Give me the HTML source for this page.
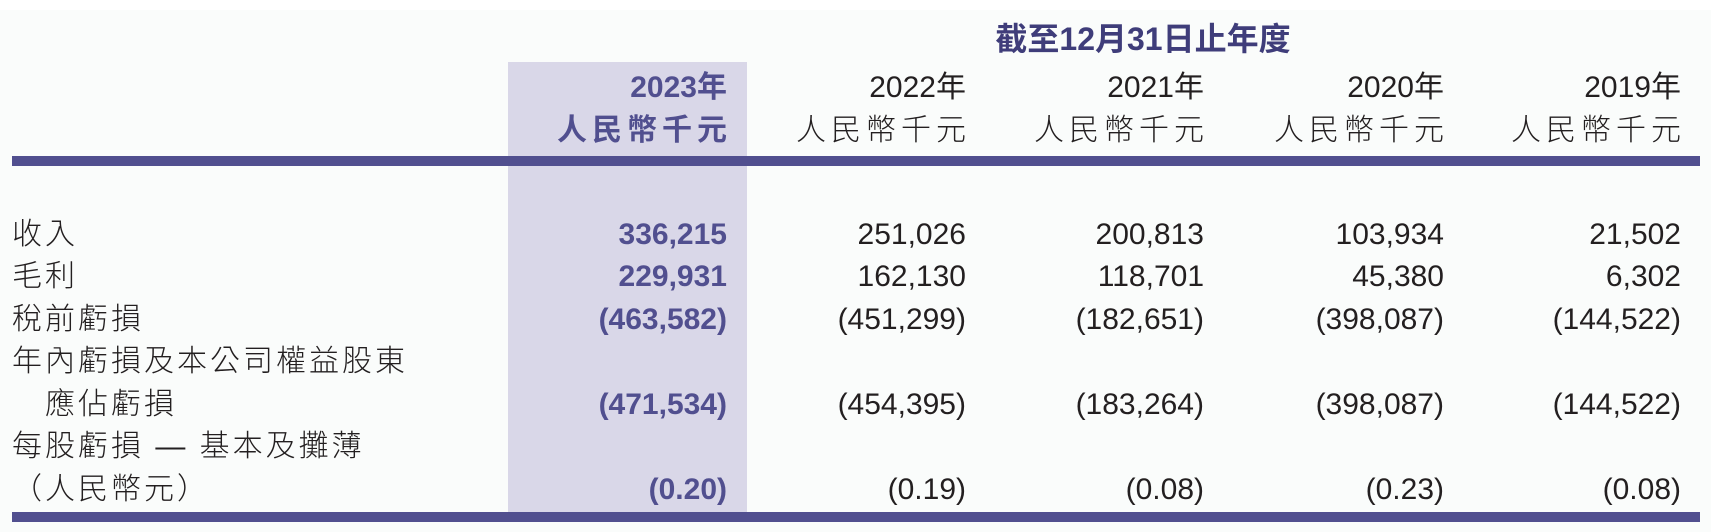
<!DOCTYPE html>
<html><head><meta charset="utf-8">
<style>
body{margin:0;width:1711px;height:532px;background:#fff;position:relative;overflow:hidden;font-family:"Liberation Sans","Noto Sans CJK TC",sans-serif;color:#231f20}
#panel{position:absolute;left:0;top:10px;width:1711px;height:522px;background:#fafcfb}
#shade{position:absolute;left:508px;top:62px;width:239px;height:450px;background:#d9d7e8}
.bar{position:absolute;left:12px;width:1688px;height:10px;background:#514f8f}
.t{position:absolute;font-size:30px;line-height:34px;white-space:nowrap}
.r{text-align:right;width:300px}
.b{color:#514f8f;font-weight:bold}
.cjk{font-family:"Liberation Sans","Noto Sans CJK TC",sans-serif;font-weight:300}
</style></head><body>
<div id="panel"></div>
<div id="shade"></div>
<div class="bar" style="top:156px"></div>
<div class="bar" style="top:512px"></div>
<div class="t b" style="left:993px;top:22px;width:300px;text-align:center;font-size:32px;color:#3f3d7a">截至12月31日止年度</div>
<div id="cols"></div>
<div id="rows"></div>
<script>
const years=["2023年","2022年","2021年","2020年","2019年"];
const labels=["收入","毛利","稅前虧損","年內虧損及本公司權益股東","　應佔虧損","每股虧損 — 基本及攤薄","（人民幣元）"];
const revenue=["336,215","251,026","200,813","103,934","21,502"];
const gross=["229,931","162,130","118,701","45,380","6,302"];
const pretax=["(463,582)","(451,299)","(182,651)","(398,087)","(144,522)"];
const attrib=["(471,534)","(454,395)","(183,264)","(398,087)","(144,522)"];
const eps=["(0.20)","(0.19)","(0.08)","(0.23)","(0.08)"];
const rowsData=[revenue,gross,pretax,null,attrib,null,eps];
const rights=[727,966,1204,1444,1681];
const rowTop=[218,260,303,345,388,430,473];
const cols=document.getElementById('cols');
years.forEach((y,i)=>{
 const a=document.createElement('div');a.className='t r'+(i==0?' b':'');
 a.style.left=(rights[i]-300)+'px';a.style.top='71px';a.textContent=y;
 
 
 cols.appendChild(a);
 const u=document.createElement('div');u.className='t r cjk'+(i==0?' b':'');
 u.style.left=(rights[i]-295)+'px';u.style.top='114px';u.style.letterSpacing='5px';u.textContent='人民幣千元';
 if(i==0){u.style.fontWeight='bold';}
 
 
 cols.appendChild(u);
});
const rows=document.getElementById('rows');
labels.forEach((l,r)=>{
 const d=document.createElement('div');d.className='t cjk';d.style.letterSpacing='3px';
 d.style.left='12px';d.style.top=rowTop[r]+'px';d.textContent=l;
 
 
 rows.appendChild(d);
 const vals=rowsData[r];
 if(vals)vals.forEach((v,i)=>{
  const c=document.createElement('div');c.className='t r'+(i==0?' b':'');
  c.style.left=(rights[i]-300)+'px';c.style.top=rowTop[r]+'px';c.textContent=v;
  
  
  rows.appendChild(c);
 });
});
</script>
</body></html>
